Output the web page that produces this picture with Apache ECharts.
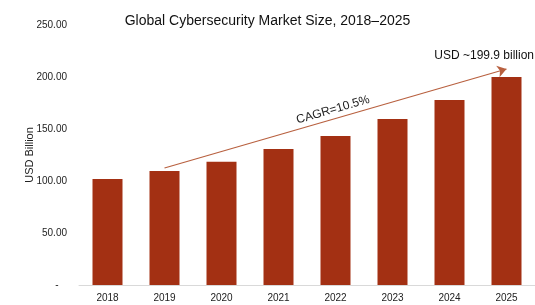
<!DOCTYPE html>
<html>
<head>
<meta charset="utf-8">
<script src="https://cdn.jsdelivr.net/npm/echarts@6/dist/echarts.min.js"></script>
<style>
    html, body { margin: 0; padding: 0; background: #fff; }
    #chart { width: 535px; height: 305px; }
</style>
</head>
<body>
<div id="chart"></div>
<script>
const years = ['2018', '2019', '2020', '2021', '2022', '2023', '2024', '2025'];
const marketSize = [101.9, 109.6, 118.6, 130.8, 143.3, 159.6, 177.9, 199.9];
const cagrText = 'CAGR=10.5%';
const endText = 'USD ~199.9 billion';

const FONT = '"Liberation Sans", Arial, sans-serif';

const chart = echarts.init(document.getElementById('chart'));

chart.setOption({
    backgroundColor: '#fff',
    animation: false,
    textStyle: { fontFamily: FONT },
    title: {
        text: 'Global Cybersecurity Market Size, 2018\u20132025',
        left: 'center',
        top: 9,
        textStyle: { fontFamily: FONT, fontSize: 14, fontWeight: 'normal', color: '#111' }
    },
    graphic: [{
        type: 'text',
        right: 1,
        top: 50,
        style: { text: endText, font: '12px ' + FONT, fill: '#111' }
    }],
    grid: { left: 79, right: -5, top: 25, bottom: 20 },
    xAxis: {
        type: 'category',
        data: years,
        axisLine: { lineStyle: { color: '#d9d9d9', width: 1 } },
        axisTick: { show: false },
        axisLabel: { color: '#222', fontSize: 10, margin: 8 }
    },
    yAxis: {
        type: 'value',
        min: 0,
        max: 250,
        interval: 50,
        name: 'USD Billion',
        nameLocation: 'middle',
        nameGap: 44,
        nameMoveOverlap: false,
        nameTextStyle: { color: '#222', fontSize: 11 },
        axisLine: { show: false },
        axisTick: { show: false },
        splitLine: { show: false },
        axisLabel: {
            color: '#222',
            fontSize: 10,
            margin: 12,
            formatter: v => (v === 0 ? '-   ' : v.toFixed(2))
        }
    },
    series: [{
        type: 'bar',
        data: marketSize,
        barWidth: 30,
        itemStyle: { color: '#a33013' },
        markLine: {
            silent: true,
            symbol: ['none', 'arrow'],
            symbolSize: [9, 9],
            lineStyle: { color: '#b8603f', width: 1.2, type: 'solid' },
            label: {
                show: true,
                position: 'middle',
                formatter: cagrText,
                color: '#222',
                fontSize: 12,
                distance: 3
            },
            data: [[
                { coord: [1.1, 112.5] },
                { coord: [6.79, 207.7] }
            ]]
        }
    }]
});
</script>
</body>
</html>
